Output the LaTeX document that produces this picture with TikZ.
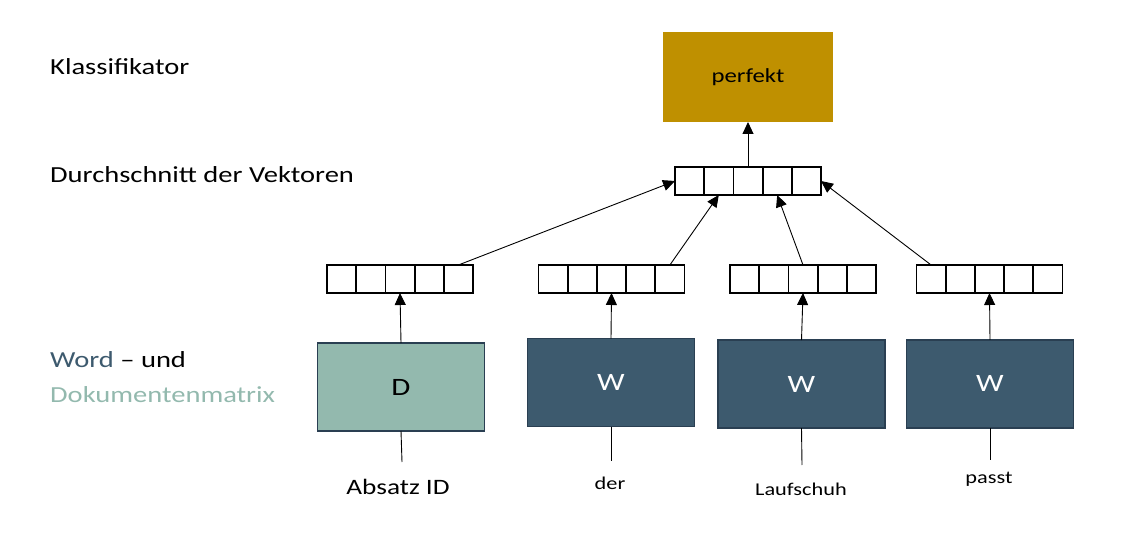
\documentclass[tikz,border=0pt]{standalone}
\usepackage{fontspec}
\setmainfont{Carlito}
\usepackage{graphicx}
\usetikzlibrary{arrows.meta,calc}
\definecolor{gold}{HTML}{BF9000}
\definecolor{sage}{HTML}{93B9AE}
\definecolor{slate}{HTML}{3D5A6E}
\definecolor{navy}{HTML}{2A3F52}
\newcommand{\hs}[1]{\scalebox{1.24}[1]{#1}}
\newcommand{\fsz}[1]{\fontsize{#1}{#1}\selectfont}
\newcommand{\vecdiv}[1]{\foreach \i in {1,...,4}{\draw[line width=1.8pt] ($(#1.north west)!\i/5!(#1.north east)$) -- ($(#1.south west)!\i/5!(#1.south east)$);}}
\begin{document}
\begin{tikzpicture}[x=1pt,y=-1pt,
  vecbox/.style={draw,line width=1.8pt,minimum width=146pt,minimum height=28pt,inner sep=0pt,outer sep=0pt},
  emb/.style={draw=navy,line width=1.4pt,minimum width=167pt,minimum height=88pt,inner sep=0pt,outer sep=0pt,font=\fsz{25}},
  arr/.style={-{Triangle[length=12pt,width=11pt]},line width=0.9pt},
  plain/.style={line width=0.9pt},
  sidelbl/.style={anchor=base west,inner sep=0pt,font=\fsz{23}},
  wordlbl/.style={anchor=base,inner sep=0pt,font=\fsz{18}}]
\useasboundingbox (0,0) rectangle (1132,545);

% left labels
\node[sidelbl] (lk) at (50,75) {\hs{Klassifikator}};
\node[sidelbl] (ld) at (50,183) {\hs{Durchschnitt der Vektoren}};
\node[sidelbl] (lw) at (50,367.5) {\hs{\textcolor{slate}{Word} – und}};
\node[sidelbl,text=sage] (lm) at (50,402.5) {\hs{Dokumentenmatrix}};

% classifier
\node[fill=gold,minimum width=170pt,minimum height=90pt,inner sep=0pt,outer sep=0pt,font=\fsz{20}] (perf) at (748,77) {\hs{perfekt}};

% average vector
\node[vecbox] (tv) at (748,181) {};
\vecdiv{tv}

% vectors
\node[vecbox] (v1) at (400,279) {};
\node[vecbox] (v2) at (611.5,279) {};
\node[vecbox] (v3) at (803,279) {};
\node[vecbox] (v4) at (989.5,279) {};
\vecdiv{v1}\vecdiv{v2}\vecdiv{v3}\vecdiv{v4}

% embedding boxes
\node[emb,fill=sage] (D) at (401,387) {\hs{D}};
\node[emb,fill=slate,text=white] (W1) at (611,382.5) {\hs{W}};
\node[emb,fill=slate,text=white] (W2) at (801.5,384) {\hs{W}};
\node[emb,fill=slate,text=white] (W3) at (990,383.8) {\hs{W}};

% input words
\node[wordlbl,font=\fsz{22}] (tD) at (398,494) {\hs{Absatz ID}};
\node[wordlbl] (tW1) at (610,489) {\hs{der}};
\node[wordlbl] (tW2) at (801,495) {\hs{Laufschuh}};
\node[wordlbl] (tW3) at (989,483) {\hs{passt}};
\coordinate (eD) at (402,462);
\coordinate (eW1) at (611,461);
\coordinate (eW2) at (802,465);
\coordinate (eW3) at (990,460);

\draw[plain] (D.south) -- (eD);
\draw[plain] (W1.south) -- (eW1);
\draw[plain] (W2.south) -- (eW2);
\draw[plain] (W3.south) -- (eW3);

% up arrows
\draw[arr] (D.north) -- (v1.south);
\draw[arr] (W1.north) -- (v2.south);
\draw[arr] (W2.north) -- (v3.south);
\draw[arr] (W3.north) -- (v4.south);

% to average
\draw[arr] ($(v1.north west)!0.9!(v1.north east)$) -- (tv.west);
\draw[arr] ($(v2.north west)!0.9!(v2.north east)$) -- ($(tv.south west)!0.3!(tv.south east)$);
\draw[arr] ($(v3.north west)!0.5!(v3.north east)$) -- ($(tv.south west)!0.7!(tv.south east)$);
\draw[arr] ($(v4.north west)!0.1!(v4.north east)$) -- (tv.east);

% to classifier
\draw[arr] (tv.north) -- (perf.south);
\end{tikzpicture}
\end{document}
